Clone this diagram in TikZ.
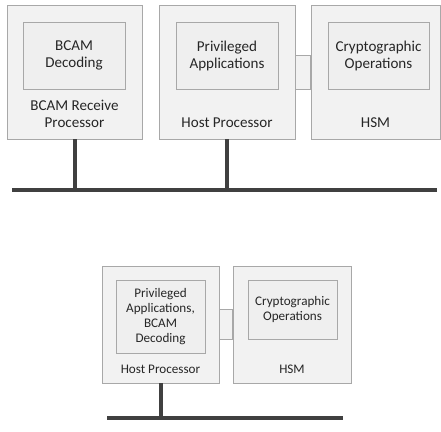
\documentclass[tikz,border=0pt]{standalone}
\usepackage{fontspec}
\setmainfont{Carlito}
\usepackage{tikz}
\usetikzlibrary{positioning, calc, shadows}
\definecolor{boxfill}{HTML}{F2F2F2}
\definecolor{innerfill}{HTML}{EFEFEF}
\definecolor{boxline}{HTML}{A8A8A8}
\definecolor{busline}{HTML}{404040}
\definecolor{textgray}{HTML}{262626}
\tikzset{
    unit/.style={rectangle, draw=boxline, fill=boxfill, line width=0.6pt, drop shadow={shadow xshift=0.8pt, shadow yshift=-0.8pt, fill=black!14, opacity=1}},
    task/.style={rectangle, draw=boxline, fill=innerfill, line width=0.6pt, align=center, text=textgray, drop shadow={shadow xshift=0.8pt, shadow yshift=-0.8pt, fill=black!10, opacity=1}},
    caption/.style={align=center, text=textgray, inner sep=0pt, anchor=base},
    link/.style={draw=boxline, fill=boxfill, line width=0.6pt},
    bus/.style={line width=3pt, draw=busline}
}

\begin{document}
\begin{tikzpicture}[x=0.75pt, y=-0.75pt,
    bigfont/.style={font=\fontsize{11.3pt}{12.75pt}\selectfont},
    smallfont/.style={font=\fontsize{9.85pt}{11.25pt}\selectfont}
]
    \useasboundingbox (0,0) rectangle (441,431);

    % Top row: separate BCAM receive processor
    \node[unit, minimum width=101.25pt, minimum height=100.5pt] (recv) at (74.5,72) {};
    \node[unit, minimum width=102pt, minimum height=100.5pt] (host) at (227,72) {};
    \node[unit, minimum width=96.75pt, minimum height=100.5pt] (hsm) at (375.5,72) {};
    \node[task, bigfont, minimum width=76.5pt, minimum height=50.25pt] (decode) at (74,55.5) {BCAM\\Decoding};
    \node[task, bigfont, minimum width=76.5pt, minimum height=50.25pt] (apps) at (227,55.5) {Privileged\\Applications};
    \node[task, bigfont, minimum width=75.75pt, minimum height=50.25pt] (crypto) at (378.5,55.5) {Cryptographic\\Operations};
    \node[caption, bigfont] (recvlab) at (74.5,127) {BCAM Receive\\Processor};
    \node[caption, bigfont] (hostlab) at (227,127) {Host Processor};
    \node[caption, bigfont] (hsmlab) at (375.5,127) {HSM};
    \path[link] (host.east |- crypto.center) rectangle (hsm.west |- crypto.south);

    \coordinate (busL) at (12,190);
    \coordinate (busR) at (437,190);
    \draw[bus] (busL) -- (busR);
    \draw[bus] (recv.south) -- (recv.south |- busL);
    \draw[bus] (host.south) -- (host.south |- busL);

    % Bottom row: decoding merged into host processor
    \node[unit, minimum width=87.75pt, minimum height=87.75pt] (host2) at (160.5,324.5) {};
    \node[unit, minimum width=88.5pt, minimum height=87.75pt] (hsm2) at (292,324.5) {};
    \node[task, smallfont, minimum width=66.75pt, minimum height=54.75pt] (apps2) at (160.5,316.5) {Privileged\\Applications,\\BCAM\\Decoding};
    \node[task, smallfont, minimum width=66.75pt, minimum height=44.25pt] (crypto2) at (292.5,309.5) {Cryptographic\\Operations};
    \node[caption, smallfont] (hostlab2) at (160.5,373) {Host Processor};
    \node[caption, smallfont] (hsmlab2) at (292,373) {HSM};
    \path[link] (host2.east |- crypto2.center) rectangle (hsm2.west |- crypto2.south);

    \coordinate (bus2L) at (107,418);
    \coordinate (bus2R) at (343,418);
    \draw[bus] (bus2L) -- (bus2R);
    \draw[bus] (host2.south) -- (host2.south |- bus2L);
\end{tikzpicture}
\end{document}
